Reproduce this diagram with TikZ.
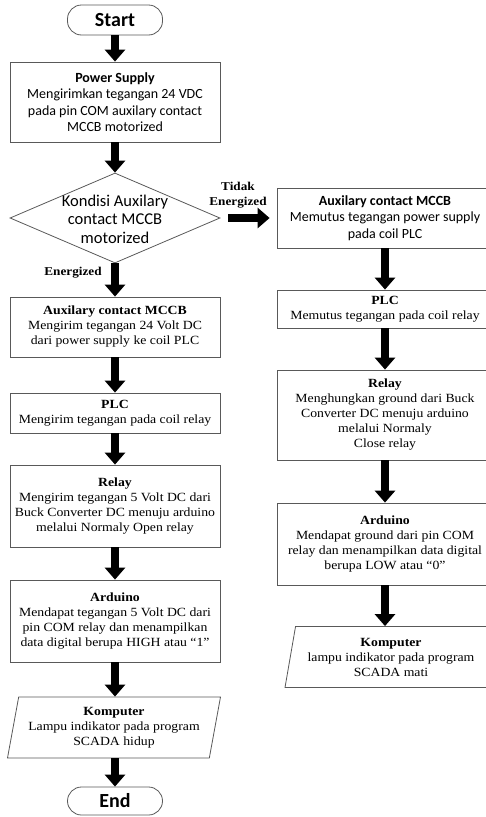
\documentclass[tikz,border=0pt]{standalone}
\usepackage{fontspec}
\setmainfont[FakeStretch=1.1]{Liberation Serif}
\newfontfamily\calibri{Carlito}
\usetikzlibrary{arrows.meta, shapes.geometric}

\begin{document}
\begin{tikzpicture}[x=1pt, y=-1pt,
    box/.style={draw=black!65, line width=0.8pt, fill=white, minimum width=210pt,
      align=center, inner sep=2pt, font=\fontsize{12.5}{15}\selectfont},
    sansbox/.style={box, font=\calibri\fontsize{14}{16.5}\selectfont},
    iobox/.style={box, trapezium, trapezium left angle=76, trapezium right angle=104,
      trapezium stretches body},
    term/.style={draw=black!65, line width=0.8pt, rounded corners=14pt, minimum width=95pt,
      minimum height=30pt, font=\calibri\bfseries\fontsize{20}{22}\selectfont},
    decision/.style={draw=black!65, line width=0.8pt, diamond, minimum width=210pt,
      minimum height=90pt, inner sep=0pt},
    flowarrow/.style={line width=8pt, -{Triangle[width=20pt,length=12pt]}},
    answer/.style={align=center, font=\bfseries\fontsize{12}{15}\selectfont}]
                  \useasboundingbox (0,0) rectangle (485,817);

                  % left column
                  \node[term] (start) at (115,20) {Start};
                  \node[sansbox, minimum height=80pt] (power) at (115,102)
                  {\textbf{Power Supply}\\Mengirimkan tegangan 24 VDC\\pada pin COM auxilary contact\\MCCB motorized};
                  \node[decision] (cond) at (115,218) {};
                  \node[align=center, font=\calibri\fontsize{16.5}{18.5}\selectfont] (condtext) at (115,219)
                  {Kondisi Auxilary\\contact MCCB\\motorized};
                  \node[answer] (yes) at (73,273) {Energized};
                  \node[box, minimum height=60pt] (laux) at (115,327)
                  {\textbf{Auxilary contact MCCB}\\Mengirim tegangan 24 Volt DC\\dari power supply ke coil PLC};
                  \node[box, minimum height=40pt] (lplc) at (115,413)
                  {\textbf{PLC}\\Mengirim tegangan pada coil relay};
                  \node[box, minimum height=82pt] (lrelay) at (115,506)
                  {\textbf{Relay}\\Mengirim tegangan 5 Volt DC dari\\Buck Converter DC menuju arduino\\melalui Normaly Open relay};
                  \node[box, minimum height=82pt] (lard) at (115,621)
                  {\textbf{Arduino}\\Mendapat tegangan 5 Volt DC dari\\pin COM relay dan menampilkan\\data digital berupa HIGH atau “1”};
                  \node[iobox, minimum height=61pt, minimum width=213pt] (lkomp) at (114,727.5)
                  {\textbf{Komputer}\\Lampu indikator pada program\\SCADA hidup};
                  \node[term, minimum height=28pt] (stop) at (115,801) {End};

                  % right column
                  \node[answer] (no) at (238,195) {Tidak\\Energized};
                  \node[sansbox, minimum height=60pt, minimum width=216pt] (raux) at (385,218)
                  {\textbf{Auxilary contact MCCB}\\Memutus tegangan power supply\\pada coil PLC};
                  \node[box, minimum height=38pt, minimum width=216pt] (rplc) at (385,309)
                  {\textbf{PLC}\\Memutus tegangan pada coil relay};
                  \node[box, minimum height=90pt, minimum width=216pt] (rrelay) at (385,415)
                  {\textbf{Relay}\\Menghungkan ground dari Buck\\Converter DC menuju arduino\\melalui Normaly\\Close relay};
                  \node[box, minimum height=82pt, minimum width=216pt] (rard) at (385,544)
                  {\textbf{Arduino}\\Mendapat ground dari pin COM\\relay dan menampilkan data digital\\berupa LOW atau “0”};
                  \node[iobox, minimum height=61pt, minimum width=212pt] (rkomp) at (391,657)
                  {\textbf{Komputer}\\lampu indikator pada program\\SCADA mati};

                  % arrows
                  \draw[flowarrow] (start.south) -- (power.north);
                  \draw[flowarrow] (power.south) -- (cond.north);
                  \draw[flowarrow] (cond.south) -- (laux.north);
                  \draw[flowarrow] (laux.south) -- (lplc.north);
                  \draw[flowarrow] (lplc.south) -- (lrelay.north);
                  \draw[flowarrow] (lrelay.south) -- (lard.north);
                  \draw[flowarrow] (lard.south) -- (lard.south |- lkomp.north);
                  \draw[flowarrow] (lkomp.south -| stop.north) -- (stop.north);
                  \draw[flowarrow, shorten <=8pt, shorten >=7pt] (cond.east) -- (cond.east -| raux.west);
                  \draw[flowarrow] (raux.south) -- (rplc.north);
                  \draw[flowarrow] (rplc.south) -- (rrelay.north);
                  \draw[flowarrow] (rrelay.south) -- (rard.north);
                  \draw[flowarrow] (rard.south) -- (rard.south |- rkomp.north);
              \end{tikzpicture}
\end{document}
